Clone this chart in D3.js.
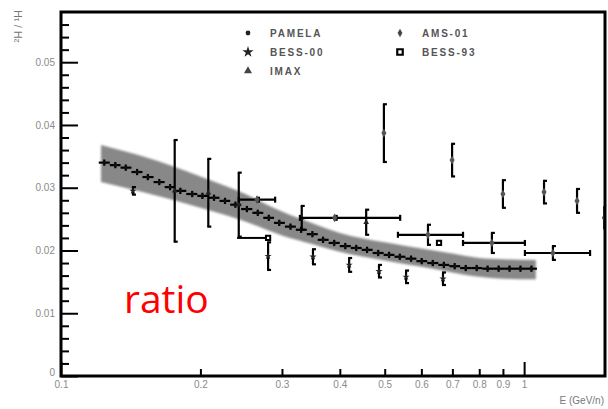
<!DOCTYPE html>
<html><head><meta charset="utf-8">
<script src="https://cdn.jsdelivr.net/npm/d3@7"></script>
<style>
html,body{margin:0;padding:0;background:#fff;}
svg{display:block;}
</style></head><body>
<svg id="chart" width="608" height="409"></svg>
<script>
// ---- data: deuteron / proton ratio vs kinetic energy per nucleon ----
const pamelaE = [0.124,0.131,0.138,0.146,0.154,0.163,0.172,0.181,0.192,0.202,0.214,0.226,0.238,0.252,0.266,0.281,0.296,0.313,0.330,0.349,0.368,0.389,0.411,0.434,0.458,0.484,0.511,0.539,0.570,0.601,0.635,0.671,0.708,0.748,0.790,0.834,0.881,0.930,0.982,1.037];
const pamelaR = [0.0340,0.0336,0.0332,0.0325,0.0317,0.0309,0.0301,0.0295,0.0290,0.0287,0.0284,0.0279,0.0273,0.0266,0.0260,0.0252,0.0244,0.0238,0.0233,0.0226,0.0217,0.0212,0.0207,0.0204,0.0201,0.0196,0.0193,0.0190,0.0187,0.0183,0.0180,0.0177,0.0175,0.0172,0.0172,0.0171,0.0171,0.0171,0.0171,0.0171];
const pamelaErr = [0.0005,0.0005,0.0005,0.0005,0.0005,0.0005,0.0005,0.0005,0.0005,0.0005,0.0005,0.0005,0.0005,0.0005,0.0005,0.0005,0.0005,0.0005,0.0005,0.0005,0.0005,0.0005,0.0005,0.0005,0.0005,0.0005,0.0005,0.0005,0.0005,0.0005,0.0005,0.0005,0.0005,0.0005,0.0005,0.0005,0.0005,0.0005,0.0005,0.0005];

// model band (lower / upper edge)
const bandE  = [0.122,0.15,0.2,0.25,0.3,0.35,0.4,0.5,0.6,0.7,0.8,0.9,1.06];
const bandLo = [0.0309,0.0293,0.0268,0.0246,0.0224,0.0210,0.0198,0.0184,0.0174,0.0165,0.0158,0.0155,0.0154];
const bandHi = [0.0368,0.0350,0.0318,0.0290,0.0262,0.0243,0.0228,0.0213,0.0203,0.0195,0.0188,0.0186,0.0185];

const bess00E   = [0.143,0.280,0.350,0.419,0.486,0.556,0.668];
const bess00R   = [0.0295,0.0191,0.0190,0.0177,0.0167,0.0158,0.0155];
const bess00Err = [0.0006,0.0022,0.0012,0.0011,0.0010,0.0010,0.0010];

const imaxE   = [0.176,0.208,0.242,0.331,0.456];
const imaxR   = [0.0295,0.0292,0.0273,0.0252,0.0245];
const imaxErr = [0.0081,0.0054,0.0051,0.0019,0.0020];

const amsE    = [0.265,0.390,0.620,0.852,1.154,0.498,0.699,0.900,1.104,1.301,1.490];
const amsR    = [0.0281,0.0252,0.0225,0.0212,0.0196,0.0387,0.0344,0.0290,0.0293,0.0279,0.0252];
const amsErr  = [0.0003,0.0003,0.0016,0.0016,0.0011,0.0046,0.0026,0.0022,0.0018,0.0019,0.0017];
const amsELo  = [0.242,0.328,0.534,0.738,1.004,null,null,null,null,null,null];
const amsEHi  = [0.290,0.540,0.738,1.004,1.388,null,null,null,null,null,null];

const bess93E   = [0.280,0.655];
const bess93R   = [0.0220,0.0212];
const bess93ELo = [0.240,0.655];
const bess93EHi = [0.280,0.655];

const xTickVals   = [0.1,0.2,0.3,0.4,0.5,0.6,0.7,0.8,0.9,1];
const xTickLabels = ["0.1","0.2","0.3","0.4","0.5","0.6","0.7","0.8","0.9","1"];
const yTickVals   = [0,0.01,0.02,0.03,0.04,0.05];
const yTickLabels = ["0","0.01","0.02","0.03","0.04","0.05"];
const yMinorVals  = [0.002,0.004,0.006,0.008,0.012,0.014,0.016,0.018,0.022,0.024,0.026,0.028,0.032,0.034,0.036,0.038,0.042,0.044,0.046,0.048,0.052,0.054,0.056];

const legendNames = ["PAMELA","BESS-00","IMAX","AMS-01","BESS-93"];

// ---- layout ----
const L = 61, T = 12, R = 605, B = 376;
const svg = d3.select("#chart");
const x = d3.scaleLog().domain([0.1, 1.495]).range([L, R]);
const y = d3.scaleLinear().domain([0, 0.058]).range([B, T]);

const defs = svg.append("defs");
defs.append("clipPath").attr("id","plotClip").append("rect")
  .attr("x", L).attr("y", T).attr("width", R - L).attr("height", B - T);
defs.append("filter").attr("id","soft").attr("x","-10%").attr("y","-30%").attr("width","120%").attr("height","160%")
  .append("feGaussianBlur").attr("stdDeviation", 1.3);

const plot = svg.append("g").attr("clip-path","url(#plotClip)");

// model band
const band = bandE.map((e,i)=>({e, lo:bandLo[i], hi:bandHi[i]}));
plot.append("path").datum(band)
  .attr("d", d3.area().x(d=>x(d.e)).y0(d=>y(d.lo)).y1(d=>y(d.hi)).curve(d3.curveMonotoneX))
  .attr("fill","#888").attr("filter","url(#soft)");

// generic error-bar drawing
function drawPoints(g, pts, opt) {
  const sw = opt.sw || 2, cap = opt.cap;
  pts.forEach(p => {
    const cx = x(p.e), cy = y(p.r);
    if (p.err) {
      g.append("line").attr("x1",cx).attr("x2",cx).attr("y1",y(p.r - p.err)).attr("y2",y(p.r + p.err))
        .attr("stroke","#000").attr("stroke-width",sw);
      if (cap) {
        [p.r - p.err, p.r + p.err].forEach(v => g.append("line")
          .attr("x1",cx - 1).attr("x2",cx + cap).attr("y1",y(v)).attr("y2",y(v))
          .attr("stroke","#000").attr("stroke-width",sw));
      }
    }
    if (p.lo != null && p.hi != null && p.hi > p.lo) {
      g.append("line").attr("x1",x(p.lo)).attr("x2",x(p.hi)).attr("y1",cy).attr("y2",cy)
        .attr("stroke","#000").attr("stroke-width",sw);
      if (cap) {
        [p.lo, p.hi].forEach(v => g.append("line")
          .attr("x1",x(v)).attr("x2",x(v)).attr("y1",cy - 3).attr("y2",cy + 3)
          .attr("stroke","#000").attr("stroke-width",sw));
      }
    }
    if (opt.symbol) {
      g.append("path").attr("transform",`translate(${cx},${cy})`)
        .attr("d", d3.symbol().type(opt.symbol).size(opt.size)())
        .attr("fill", opt.open ? "#fff" : opt.fill || "#222")
        .attr("stroke", opt.open ? "#000" : "none").attr("stroke-width", opt.open ? 2 : 0);
    }
  });
}

// PAMELA: bin edges halfway (in log) between neighbouring centres
const pam = pamelaE.map((e,i)=>{
  const prev = i > 0 ? pamelaE[i-1] : e*e/pamelaE[i+1];
  const next = i < pamelaE.length-1 ? pamelaE[i+1] : e*e/pamelaE[i-1];
  return {e, r:pamelaR[i], err:pamelaErr[i], lo:Math.sqrt(prev*e), hi:Math.sqrt(e*next)};
});
drawPoints(plot.append("g"), pam, {sw:2.2, symbol:d3.symbolCircle, size:10, fill:"#111"});

drawPoints(plot.append("g"),
  bess00E.map((e,i)=>({e, r:bess00R[i], err:bess00Err[i]})),
  {sw:2.2, cap:3, symbol:d3.symbolStar, size:16, fill:"#222"});

drawPoints(plot.append("g"),
  imaxE.map((e,i)=>({e, r:imaxR[i], err:imaxErr[i]})),
  {sw:2.2, cap:3, symbol:d3.symbolTriangle, size:14, fill:"#222"});

drawPoints(plot.append("g"),
  amsE.map((e,i)=>({e, r:amsR[i], err:amsErr[i], lo:amsELo[i], hi:amsEHi[i]})),
  {sw:2.2, cap:3, symbol:d3.symbolDiamond, size:22, fill:"#555"});

drawPoints(plot.append("g"),
  bess93E.map((e,i)=>({e, r:bess93R[i], lo:bess93ELo[i], hi:bess93EHi[i]})),
  {sw:2, symbol:d3.symbolSquare, size:18, open:true});

// ---- axes ----
const labelFont = "Liberation Sans, Arial, sans-serif";
const yAxis = svg.append("g").attr("transform",`translate(${L},0)`)
  .call(d3.axisLeft(y).tickValues(yTickVals).tickFormat((d,i)=>yTickLabels[i]).tickSize(-17).tickPadding(6));
const yMinor = svg.append("g").attr("transform",`translate(${L},0)`)
  .call(d3.axisLeft(y).tickValues(yMinorVals).tickFormat("").tickSize(-8));

const xMain = svg.append("g").attr("transform",`translate(0,${B})`)
  .call(d3.axisBottom(x).tickValues(xTickVals).tickFormat((d,i)=>xTickLabels[i])
    .tickSizeInner(-7).tickSizeOuter(0).tickPadding(8));
xMain.selectAll(".tick line").filter(d => d === 0.1 || d === 1).attr("y2", -14);

[yAxis, yMinor, xMain].forEach(g => {
  g.select(".domain").remove();
  g.selectAll(".tick line").attr("stroke","#000").attr("stroke-width",2);
  g.selectAll("text").attr("font-family",labelFont).attr("font-size",10).attr("fill","#8a8a8a");
});
yAxis.selectAll(".tick").filter(d=>d===0).select("text").attr("dy","-0.1em");
xMain.selectAll(".tick text").attr("dy","0.4em");

// frame
svg.append("rect").attr("x",L).attr("y",T).attr("width",R-L).attr("height",B-T)
  .attr("fill","none").attr("stroke","#000").attr("stroke-width",3);

// axis titles
svg.append("text").attr("x",604).attr("y",404).attr("text-anchor","end")
  .attr("font-family",labelFont).attr("font-size",10).attr("fill","#777").text("E (GeV/n)");
svg.append("text").attr("transform","translate(22,10) rotate(-90)").attr("text-anchor","end")
  .attr("font-family",labelFont).attr("font-size",11).attr("fill","#777").text("²H / ¹H");

// ---- legend ----
const legendPos = [[248,33],[248,52],[248,71],[400,33],[400,52]];
const legendSym = [
  {t:d3.symbolCircle,s:18,fill:"#222"},
  {t:d3.symbolStar,s:40,fill:"#222"},
  {t:d3.symbolTriangle,s:28,fill:"#444"},
  {t:d3.symbolDiamond,s:20,fill:"#444"},
  {t:d3.symbolSquare,s:30,open:true}
];
const leg = svg.append("g");
legendNames.forEach((name,i)=>{
  const [lx,ly] = legendPos[i], s = legendSym[i];
  leg.append("path").attr("transform",`translate(${lx},${ly})`)
    .attr("d", d3.symbol().type(s.t).size(s.s)())
    .attr("fill", s.open ? "#fff" : s.fill).attr("stroke", s.open ? "#000" : "none").attr("stroke-width", 2.2);
  leg.append("text").attr("x", lx + 22).attr("y", ly + 3.5)
    .attr("font-family",labelFont).attr("font-size",10).attr("font-weight","bold")
    .attr("letter-spacing",1.8).attr("fill","#555").text(name);
});

// big red caption
svg.append("text").attr("x",124).attr("y",313)
  .attr("font-family","Open Sans, Lato, sans-serif").attr("font-size",39)
  .attr("fill","#ff0000").text("ratio");
</script>
</body></html>
